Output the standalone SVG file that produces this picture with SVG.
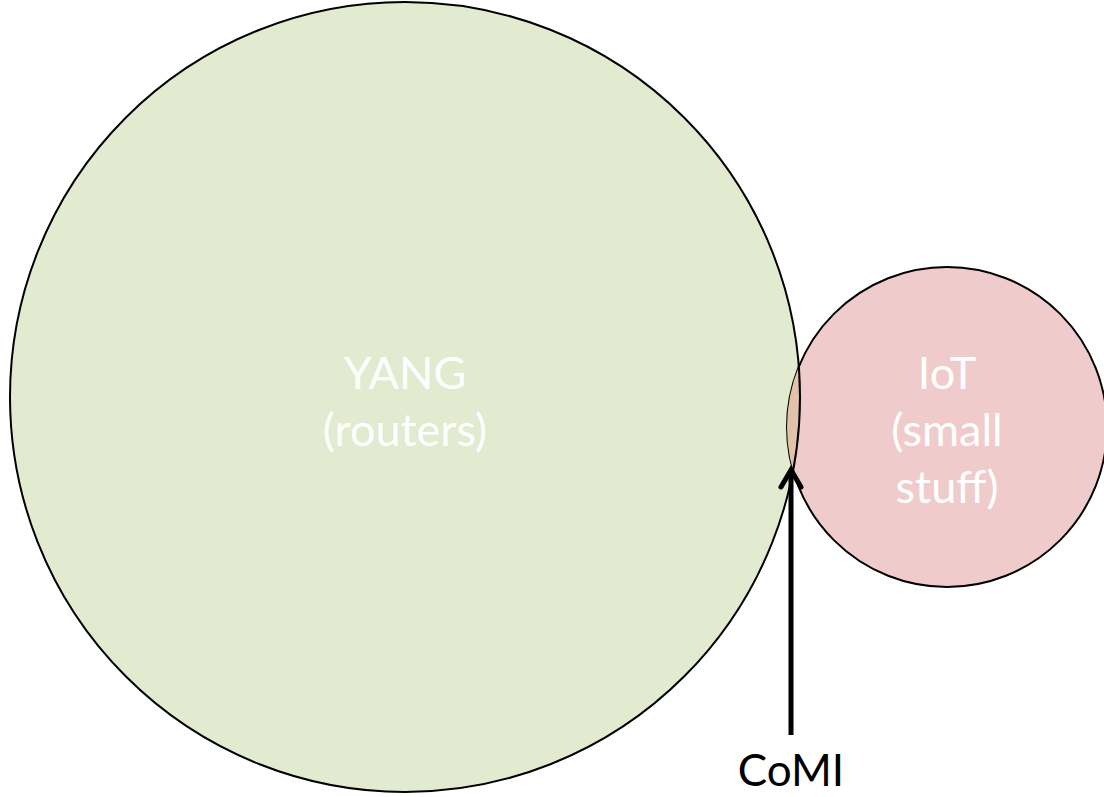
<svg xmlns="http://www.w3.org/2000/svg" width="1104" height="797" viewBox="0 0 1104 797">
<style>
.c{stroke:#000;stroke-width:2}
.t{font-family:Lato,"Open Sans",sans-serif;font-size:45px;text-anchor:middle;fill:#fff}
.l{font-family:Lato,"Open Sans",sans-serif;font-size:44px;text-anchor:middle;fill:#000}
</style>
<defs>
<clipPath id="cp"><circle cx="405" cy="397" r="395"/></clipPath>
<clipPath id="cp2"><circle cx="947" cy="427" r="161"/></clipPath>
</defs>
<rect width="1104" height="797" fill="#fff"/>
<g id="yang">
<circle class="c" cx="405" cy="397" r="395" fill="#e2ead0"/>
<text class="t" x="405" y="389">YANG</text>
<text class="t" x="405" y="446">(routers)</text>
</g>
<g id="iot">
<circle class="c" cx="947" cy="427" r="160" fill="#efcccb"/>
<circle cx="947" cy="427" r="160" fill="#e0c3a9" clip-path="url(#cp)"/>
<circle cx="405" cy="397" r="395" fill="none" stroke="#000" stroke-width="2" clip-path="url(#cp2)"/>
<text class="t" x="947" y="389">IoT</text>
<text class="t" x="947" y="446">(small</text>
<text class="t" x="947" y="503">stuff)</text>
</g>
<g id="connectors">
<line x1="791" y1="735" x2="791" y2="470" stroke="#000" stroke-width="5"/>
<polyline points="781,487 791,470 801,487" fill="none" stroke="#000" stroke-width="5" stroke-linecap="round" stroke-linejoin="miter"/>
</g>
<g id="comi">
<text class="l" x="791" y="786">CoMI</text>
</g>
</svg>
